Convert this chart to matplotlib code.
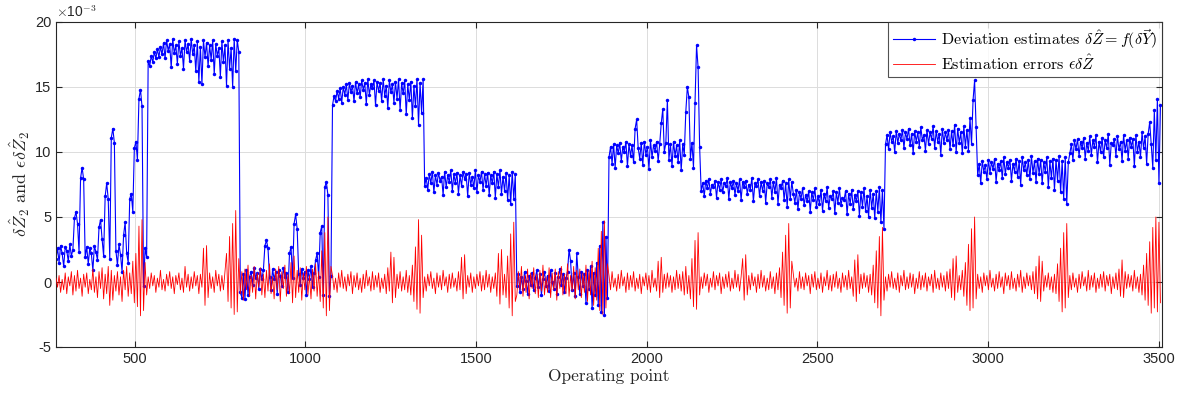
import numpy as np
import matplotlib
matplotlib.use("Agg")
import matplotlib.pyplot as plt

# operating points: 12 blocks of 270 points, one sample read every 4.5 points
block_starts = [270, 540, 810, 1080, 1350, 1620, 1890, 2160, 2430, 2700, 2970, 3240]
block_len = 270
samples_per_block = 60

# deviation estimates (units of 1e-3), read block by block
blue_vals = [
    # 270-540
    1.8, 2.6, 1.5, 2.8, 2.2, 1.2, 2.7, 2.4, 1.6, 2.9, 2.0, 2.5, 4.9, 5.4, 4.5, 2.3, 8.0, 8.8, 7.9, 1.9,
    2.7, 1.4, 2.6, 2.2, 0.9, 2.8, 2.3, 1.7, 4.2, 4.8, 3.3, 2.0, 6.6, 7.6, 6.4, 1.8, 11.1, 11.8, 10.7, 2.4,
    1.3, 2.9, 2.1, 0.8, 3.6, 4.6, 2.2, 1.5, 6.4, 6.8, 5.4, 10.3, 10.8, 9.4, 14.1, 14.8, 13.5, -0.3, 2.6, 1.9,
    # 540-810
    17.0, 16.6, 17.4, 16.9, 17.7, 17.2, 17.9, 17.3, 18.1, 17.5, 18.4, 17.2, 18.6, 17.8, 18.3, 16.5, 18.7, 17.6, 18.2, 16.8,
    18.5, 17.4, 18.0, 16.4, 18.6, 17.7, 18.3, 17.0, 18.7, 17.5, 18.2, 16.2, 18.5, 15.4, 18.1, 15.2, 18.6, 17.3, 18.4, 16.6,
    18.2, 17.1, 18.6, 16.0, 18.3, 17.4, 18.0, 15.8, 18.5, 16.9, 18.2, 15.1, 18.6, 16.4, 18.0, 15.0, 18.7, 16.2, 18.6, 17.7,
    # 810-1080
    -0.8, -1.2, 0.6, -1.3, 0.9, -1.0, 0.4, 0.8, -0.2, 1.1, 0.3, 0.7, -0.5, 1.0, 0.2, 0.9, 2.8, 3.2, 2.6, 0.4,
    -0.6, 1.0, 0.2, 0.8, -0.9, 0.9, 0.5, -0.3, 1.1, 0.4, 0.7, -0.8, 2.2, 2.7, 0.3, 4.5, 5.2, 4.1, 0.6, -0.2,
    1.0, 0.3, 0.8, -1.0, 0.9, 0.2, 1.2, -0.4, 0.7, 1.7, 2.2, 0.4, 3.8, 4.3, -1.0, 7.3, 7.7, 6.7, -1.1, 0.5,
    # 1080-1350
    13.6, 14.3, 13.9, 14.7, 14.1, 14.9, 13.8, 15.0, 14.4, 15.2, 14.0, 15.3, 14.6, 15.1, 13.9, 15.4, 14.5, 15.2, 14.2, 15.5,
    14.8, 15.3, 13.7, 15.6, 14.4, 15.2, 14.9, 15.5, 13.6, 15.4, 14.7, 15.3, 13.9, 15.6, 14.3, 15.1, 13.4, 15.5, 14.6, 15.2,
    13.8, 15.4, 14.1, 15.6, 13.2, 15.3, 14.5, 15.5, 12.9, 15.2, 14.0, 15.4, 12.6, 15.1, 13.5, 15.6, 12.1, 15.3, 13.0, 15.6,
    # 1350-1620
    7.4, 8.0, 7.1, 8.3, 7.6, 8.5, 6.9, 8.2, 7.5, 8.4, 7.8, 8.1, 6.7, 8.5, 7.3, 8.2, 7.7, 8.6, 7.0, 8.3,
    7.6, 8.4, 6.8, 8.2, 7.4, 8.5, 7.9, 8.3, 6.6, 8.4, 7.5, 8.1, 7.2, 8.6, 6.9, 8.2, 7.7, 8.5, 7.1, 8.3,
    7.4, 8.4, 6.7, 8.2, 7.6, 8.5, 6.5, 8.3, 7.3, 8.6, 6.8, 8.1, 7.0, 8.4, 6.3, 8.2, 6.0, 8.5, 6.4, 8.3,
    # 1620-1890
    -0.3, 0.6, -0.8, 0.4, -0.5, 0.8, 0.1, -0.9, 0.5, -0.2, 0.7, -0.6, 0.3, 0.9, -0.4, 0.6, -1.0, 0.2, 0.8, -0.3,
    0.5, -0.7, 0.9, 0.0, -0.5, 0.7, -0.9, 0.4, 1.0, -0.2, 0.6, -0.8, 0.3, 0.8, 2.5, 1.6, -0.6, 0.7, -1.1, 2.2,
    0.4, -0.9, 0.8, -0.3, 0.6, -1.6, 0.9, -0.5, 1.2, -2.0, 0.7, -1.0, 1.5, -1.8, 2.8, -2.3, 4.6, -2.5, 3.5, -1.2,
    # 1890-2160
    9.6, 10.4, 9.1, 10.6, 8.8, 10.5, 9.9, 10.7, 9.3, 10.4, 10.0, 10.8, 8.9, 10.6, 9.7, 10.5, 9.2, 11.8, 12.5, 10.3,
    9.5, 10.7, 9.0, 10.8, 9.8, 10.4, 8.7, 10.9, 9.6, 10.5, 10.1, 10.8, 9.3, 10.6, 12.2, 13.3, 10.0, 10.7, 14.0, 9.4,
    10.6, 8.9, 10.8, 9.7, 10.5, 9.2, 10.9, 8.6, 10.6, 9.8, 13.1, 15.0, 14.2, 9.5, 10.7, 8.8, 13.8, 18.2, 16.5, 10.4,
    # 2160-2430
    7.0, 7.6, 6.6, 7.8, 7.2, 7.9, 6.8, 7.5, 7.3, 7.8, 6.5, 7.7, 7.1, 7.9, 6.9, 7.6, 7.4, 8.0, 6.4, 7.7,
    7.2, 7.8, 6.7, 7.6, 7.0, 7.9, 6.3, 7.7, 7.3, 7.8, 6.8, 7.5, 7.1, 8.0, 6.2, 7.6, 7.4, 7.9, 6.6, 7.7,
    7.0, 7.8, 6.1, 7.6, 7.3, 7.9, 6.5, 7.7, 6.9, 8.0, 6.0, 7.5, 7.2, 7.8, 6.3, 7.6, 5.8, 7.9, 6.4, 7.7,
    # 2430-2700
    6.8, 6.1, 7.1, 5.6, 6.9, 6.4, 7.2, 5.9, 6.7, 6.2, 7.0, 5.4, 6.9, 6.3, 7.2, 5.8, 6.6, 6.0, 7.1, 5.5,
    6.8, 6.2, 7.3, 5.7, 6.6, 6.4, 7.0, 5.3, 6.9, 6.1, 7.2, 5.9, 6.5, 6.3, 7.0, 5.2, 6.8, 6.0, 7.1, 5.6,
    6.7, 6.2, 7.0, 5.1, 6.9, 5.8, 7.2, 5.5, 6.6, 5.0, 7.1, 5.7, 6.8, 4.9, 7.0, 5.4, 7.3, 4.6, 7.1, 4.1,
    # 2700-2970
    10.6, 11.3, 10.2, 11.5, 10.8, 11.2, 10.0, 11.6, 10.7, 11.4, 10.9, 11.7, 10.3, 11.5, 11.0, 11.8, 10.5, 11.4, 9.9, 11.6,
    10.8, 11.5, 10.4, 11.9, 10.9, 11.3, 10.1, 11.7, 10.6, 11.5, 11.0, 12.0, 10.3, 11.6, 10.8, 11.4, 9.8, 11.8, 10.7, 11.5,
    10.9, 11.7, 10.2, 11.6, 10.5, 12.1, 10.0, 11.8, 10.7, 11.5, 9.9, 12.0, 10.4, 11.7, 10.1, 12.6, 10.6, 14.0, 15.5, 11.9,
    # 2970-3240
    8.2, 9.1, 7.6, 9.3, 8.5, 9.0, 7.9, 9.4, 8.4, 9.2, 8.7, 9.5, 7.7, 9.1, 8.6, 9.3, 8.0, 9.6, 8.3, 9.2,
    8.8, 9.4, 7.8, 9.1, 8.5, 9.5, 8.1, 9.3, 7.5, 9.6, 8.6, 9.2, 8.2, 9.4, 7.9, 9.7, 8.4, 9.3, 7.7, 9.5,
    8.3, 9.4, 7.6, 9.2, 8.5, 9.6, 7.3, 9.3, 8.0, 9.5, 7.1, 9.4, 7.8, 9.7, 6.9, 9.3, 6.4, 9.6, 6.0, 9.2,
    # 3240-3510
    9.9, 10.6, 9.4, 10.9, 10.2, 11.0, 9.7, 10.8, 10.3, 11.1, 9.5, 10.7, 10.1, 11.2, 9.8, 10.9, 10.4, 11.3, 9.2, 10.8,
    10.0, 11.1, 9.6, 10.9, 10.3, 11.4, 9.0, 10.7, 10.5, 11.0, 9.7, 11.2, 10.2, 10.8, 9.3, 11.3, 10.1, 10.9, 9.5, 11.1,
    10.4, 11.0, 8.9, 11.3, 10.0, 10.8, 9.6, 11.5, 10.3, 11.2, 9.1, 11.4, 12.3, 10.6, 8.8, 13.2, 9.4, 14.1, 7.6, 13.6,
]

# estimation errors (units of 1e-3)
red_vals = [
    0.3, -0.4, 0.5, -0.8, 0.2, -0.6, 0.7, -0.9, 0.4, -0.3, 0.8, -1.0, 0.5, -0.7, 0.9, -0.5, 0.3, -1.1, 0.6, -0.4,
    0.7, -0.9, 0.2, -0.6, 1.0, -0.8, 0.4, -1.2, 0.8, -0.5, 1.1, -1.3, 0.6, -0.9, 1.2, -1.8, 0.9, -1.4, 0.5, -0.7,
    0.8, -1.0, 0.4, -1.5, 0.9, -0.6, 1.2, -1.1, 0.7, -0.9, 1.6, -1.6, 2.2, -1.9, 4.3, -2.6, 4.8, -2.2, 1.5, -1.0,
    0.4, -0.5, 0.7, -0.3, 0.5, -0.8, 0.3, -0.4, 0.9, -0.6, 0.2, -0.7, 0.6, -0.3, 0.8, -0.5, 0.4, -0.9, 0.5, -0.2,
    0.7, -0.6, 0.3, -0.8, 1.2, -0.4, 0.6, -0.7, 0.4, -0.5, 0.8, -0.3, 0.5, -0.9, 0.6, -0.4, 2.6, -1.8, 2.8, -1.2,
    0.7, -0.5, 0.4, -0.8, 0.9, -0.3, 0.6, -0.7, 0.5, -0.6, 0.8, 2.2, -1.5, 3.5, -2.0, 4.5, -2.5, 5.5, -2.3, 1.8,
    -0.9, 0.8, -1.4, 1.0, -0.6, 1.3, -1.1, 0.5, -0.8, 1.2, -1.3, 0.7, -0.4, 1.1, -1.0, 0.6, -1.2, 0.9, -0.7, 1.4,
    -0.9, 0.4, -1.3, 1.0, -0.6, 1.2, -1.5, 0.8, -0.5, 1.3, -1.1, 0.6, -0.9, 1.5, -1.6, 2.0, -1.2, 0.9, -0.8, 1.1,
    -1.4, 0.7, -0.6, 1.2, -1.0, 0.5, -1.3, 1.0, -0.7, 1.4, -1.1, 0.8, -1.5, 2.4, -2.0, 3.8, -2.6, 5.0, -2.2, 1.2,
    0.5, -0.6, 0.3, -0.8, 0.7, -0.4, 0.9, -0.5, 0.4, -0.7, 0.6, -0.3, 0.8, -0.9, 0.5, -0.4, 0.7, -0.6, 0.3, -0.8,
    0.6, -0.5, 0.9, -0.3, 0.4, -0.7, 0.8, -0.6, 0.5, -0.4, 0.7, -0.8, 0.3, -0.5, 0.6, -0.9, 1.1, -0.7, 2.3, -1.6,
    1.9, -1.2, 0.6, -0.5, 0.8, -0.7, 0.4, -0.6, 0.9, -0.8, 0.5, -1.0, 1.3, -1.5, 2.7, -2.1, 4.8, -2.4, 3.6, -1.2,
    0.4, -0.7, 0.6, -0.3, 0.8, -0.5, 0.3, -0.9, 0.7, -0.4, 0.5, -0.6, 0.9, -0.3, 0.4, -0.8, 0.6, -0.5, 0.7, -0.4,
    0.3, -0.7, 0.8, -0.6, 1.9, -1.3, 2.1, -0.9, 0.5, -0.4, 0.7, -0.8, 0.4, -0.5, 0.6, -0.3, 0.8, -0.7, 0.5, -0.6,
    0.9, -0.4, 0.6, -0.8, 0.4, -0.5, 0.7, -1.1, 2.2, -1.7, 2.5, -1.0, 0.6, -1.2, 2.0, -2.0, 3.7, -2.6, 4.6, -1.5,
    -1.0, 0.8, -0.6, 1.2, -1.1, 0.5, -0.8, 1.0, -1.3, 0.7, -0.5, 1.1, -0.9, 0.6, -1.2, 0.9, -0.7, 1.3, -1.0, 0.4,
    -0.8, 1.1, -1.2, 0.7, -0.6, 1.0, -1.4, 0.8, -0.5, 1.2, -1.0, 0.6, -0.9, 1.4, -1.1, 0.5, -0.7, 1.2, -1.3, 0.9,
    -0.6, 1.0, -1.2, 0.7, -0.8, 1.3, -1.5, 0.9, -1.0, 1.6, -1.8, 1.1, -1.4, 2.6, -2.2, 3.9, -2.5, 4.7, -2.0, 1.4,
    0.5, -0.6, 0.8, -0.4, 0.3, -0.7, 0.6, -0.5, 0.9, -0.3, 0.4, -0.8, 0.7, -0.6, 0.5, -0.4, 0.8, -0.7, 0.3, -0.5,
    0.6, -0.9, 0.4, -0.3, 0.7, -0.6, 0.5, -0.8, 0.9, -0.4, 0.3, -0.7, 1.6, -1.2, 1.9, -0.8, 0.6, -0.5, 0.7, -0.4,
    0.5, -0.8, 0.4, -0.6, 0.9, -0.5, 0.6, -0.7, 0.8, -1.0, 1.2, -0.9, 0.5, -1.3, 1.8, -1.9, 3.2, -2.1, 3.8, -1.0,
    0.4, -0.5, 0.7, -0.3, 0.6, -0.8, 0.3, -0.4, 0.8, -0.6, 0.5, -0.3, 0.7, -0.9, 0.4, -0.5, 0.6, -0.4, 0.8, -0.7,
    0.3, -0.5, 0.9, -0.4, 0.6, -0.7, 0.4, 1.8, -1.4, 2.1, -1.0, 0.5, -0.6, 0.7, -0.3, 0.4, -0.8, 0.6, -0.5, 0.9,
    -0.4, 0.5, -0.7, 0.3, -0.6, 0.8, -0.5, 0.4, -0.9, 0.7, -0.6, 1.1, -1.2, 2.3, -1.8, 3.6, -2.4, 4.5, -2.0, 1.6,
    0.6, -0.4, 0.3, -0.7, 0.8, -0.5, 0.4, -0.6, 0.7, -0.3, 0.5, -0.9, 0.6, -0.4, 0.8, -0.6, 0.3, -0.5, 0.7, -0.8,
    0.4, -0.3, 0.9, -0.6, 0.5, -0.7, 0.6, -0.4, 0.8, -0.5, 0.3, -0.8, 0.7, -0.4, 0.5, -0.6, 0.9, -0.5, 0.4, -1.1,
    1.7, -1.5, 2.1, -0.9, 0.6, -0.5, 0.7, -0.4, 0.5, -0.8, 0.6, -1.0, 1.3, -1.6, 2.4, -2.0, 3.5, -2.6, 4.2, -1.4,
    0.4, -0.7, 0.6, -0.4, 0.8, -0.5, 0.3, -0.6, 0.7, -0.8, 0.5, -0.3, 0.9, -0.6, 0.4, -0.5, 0.7, -0.4, 0.6, -0.9,
    0.3, -0.5, 0.8, -0.6, 0.5, -0.4, 0.7, -0.7, 0.4, -0.3, 0.6, -0.8, 0.9, -0.5, 0.3, -0.6, 0.7, -0.4, 0.5, -0.7,
    0.8, -0.5, 1.0, -1.2, 1.8, -1.4, 2.0, -0.8, 0.5, -0.6, 0.9, -1.1, 1.5, -1.8, 2.9, -2.2, 4.1, -2.0, 5.0, -1.3,
    0.6, -0.5, 0.4, -0.8, 0.7, -0.3, 0.5, -0.6, 0.9, -0.4, 0.3, -0.7, 0.6, -0.5, 0.8, -0.4, 0.4, -0.9, 0.7, -0.3,
    0.5, -0.6, 0.8, -0.5, 0.3, -0.7, 0.6, -0.4, 0.9, -0.8, 0.4, -0.5, 0.7, -0.3, 0.5, -0.6, 0.8, -0.9, 1.2, -1.3,
    2.0, -1.5, 1.6, -0.7, 0.5, -0.4, 0.7, -0.6, 0.4, -0.8, 0.6, -0.9, 1.4, -1.5, 2.6, -2.3, 3.8, -2.0, 4.5, -1.2,
    0.5, -0.6, 0.7, -0.4, 0.3, -0.8, 0.6, -0.5, 0.8, -0.3, 0.4, -0.7, 0.9, -0.6, 0.5, -0.4, 0.7, -0.8, 0.3, -0.5,
    0.6, -0.4, 0.8, -0.7, 0.5, -0.3, 0.6, -0.9, 0.4, -0.5, 0.7, -0.6, 1.0, -1.1, 1.7, -1.2, 0.8, -0.5, 0.6, -0.4,
    0.5, -0.7, 0.9, -0.5, 0.4, -0.8, 0.6, -1.0, 1.3, -1.4, 2.2, -1.8, 3.1, -2.4, 4.2, -2.0, 5.0, -2.3, 4.6, -1.6,
]

x_ticks = [500, 1000, 1500, 2000, 2500, 3000, 3500]
y_ticks = [-5, 0, 5, 10, 15, 20]

# x positions of the samples
step = block_len / samples_per_block
ops = np.concatenate([s + step * np.arange(samples_per_block) for s in block_starts])

plt.rcParams['mathtext.fontset'] = 'cm'
plt.rcParams['axes.unicode_minus'] = False
serif = ['cmr10', 'DejaVu Serif']
axc = '#262626'

fig = plt.figure(figsize=(11.81, 3.98), dpi=100)
ax = fig.add_axes([56 / 1181, 1 - 347 / 398, (1162 - 56) / 1181, (347 - 22) / 398])

ax.plot(ops, blue_vals, color='#0000ff', lw=0.8, marker='.', ms=5, mew=0,
        label=r'Deviation estimates $\delta\hat{Z}=f(\delta\vec{Y})$', zorder=2)
ax.plot(ops, red_vals, color='#ff0000', lw=0.6,
        label=r'Estimation errors $\epsilon\delta\hat{Z}$', zorder=3)

ax.set_xlim(270, 3510)
ax.set_ylim(-5, 20)
ax.set_xticks(x_ticks)
ax.set_yticks(y_ticks)
ax.grid(True, color='#dcdcdc', lw=0.7)
ax.set_axisbelow(True)
ax.tick_params(direction='in', top=True, right=True, length=4, color=axc,
               labelcolor=axc, labelsize=10.5)
for lab in ax.get_xticklabels() + ax.get_yticklabels():
    lab.set_fontfamily('Liberation Sans')
for sp in ax.spines.values():
    sp.set_color(axc)
    sp.set_linewidth(0.8)

ax.text(0, 1.005, r'$\times$10$^{-3}$', transform=ax.transAxes, fontsize=10,
        color=axc, family='Liberation Sans', va='bottom', ha='left')

ax.set_xlabel('Operating point', fontsize=12.5, family=serif, color=axc, labelpad=2)
ax.set_ylabel(r'$\delta\hat{Z}_2$ and $\epsilon\delta\hat{Z}_2$', fontsize=13,
              family=serif, color=axc, labelpad=2)

leg = ax.legend(loc='upper right', frameon=True, fancybox=False,
                borderaxespad=0, handlelength=2.6, borderpad=0.3, labelspacing=0.15,
                handletextpad=0.4, prop={'family': serif, 'size': 11.5})
leg.get_frame().set_edgecolor(axc)
leg.get_frame().set_linewidth(0.8)

fig.savefig('out.png', dpi=100)
